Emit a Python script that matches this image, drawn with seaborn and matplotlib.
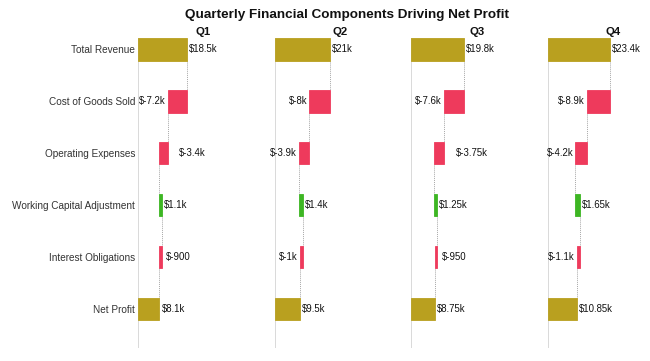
import matplotlib
matplotlib.use("Agg")
import matplotlib.pyplot as plt
import seaborn as sns
import numpy as np
import pandas as pd

# ── Data (dollars) ───────────────────────────────────────────────────────────
quarters = ["Q1", "Q2", "Q3", "Q4"]
components = ["Total Revenue", "Cost of Goods Sold", "Operating Expenses",
              "Working Capital Adjustment", "Interest Obligations", "Net Profit"]

total_revenue = [18500, 21000, 19800, 23400]
cost_of_goods = [-7200, -8000, -7600, -8900]
operating_exp = [-3400, -3900, -3750, -4200]
working_cap   = [1100, 1400, 1250, 1650]
interest      = [-900, -1000, -950, -1100]

# ── Palette ──────────────────────────────────────────────────────────────────
C_TOTAL = "#B9A01F"
C_DOWN  = "#EE3A5C"
C_UP    = "#3DB623"
ZERO    = "#D3D3D3"

rows = []
for i, q in enumerate(quarters):
    steps = [total_revenue[i], cost_of_goods[i], operating_exp[i],
             working_cap[i], interest[i]]
    net = sum(steps)
    for comp, val in zip(components, steps + [net]):
        rows.append({"quarter": q, "component": comp, "value": val})
df = pd.DataFrame(rows)


def fmt(v):
    if abs(v) >= 1000:
        return f"${v / 1000:g}k"
    return f"${v:g}"


BAR_H = 0.43


def waterfall(data, **kwargs):
    ax = plt.gca()
    ax.axvline(0, color=ZERO, lw=1.2, zorder=0)
    running = 0
    prev_end = None
    n = len(data)
    for j, (comp, val) in enumerate(zip(data["component"], data["value"])):
        is_total = j == 0 or j == n - 1
        if is_total:
            left, width, color = 0, val, C_TOTAL
            end = val
        else:
            left, width = running, val
            end = running + val
            color = C_UP if val > 0 else C_DOWN
        ax.barh(j, width, left=left, height=BAR_H, color=color,
                edgecolor=color, linewidth=0.6, zorder=2)
        # dotted connector from previous bar
        if prev_end is not None:
            ax.plot([prev_end, prev_end], [j - 1 + BAR_H / 2, j - BAR_H / 2],
                    color="#A8A8A8", lw=0.7, ls=(0, (1, 1)), zorder=1)
        lo, hi = min(left, left + width), max(left, left + width)
        label = fmt(val)
        if is_total or val > 0:
            ax.annotate(label, (hi, j), xytext=(1.5, 0), textcoords="offset points",
                        ha="left", va="center", fontsize=6.9, color="#111111")
        elif lo >= 9000:
            ax.annotate(label, (lo, j), xytext=(-1.5, 0), textcoords="offset points",
                        ha="right", va="center", fontsize=6.9, color="#111111")
        else:
            ax.annotate(label, (hi + abs(val), j), xytext=(1.5, 0),
                        textcoords="offset points",
                        ha="left", va="center", fontsize=6.9, color="#111111")
        running = end
        prev_end = end


sns.set_theme(style="white")
plt.rcParams["font.family"] = ["Liberation Sans", "DejaVu Sans"]

g = sns.FacetGrid(df, col="quarter", col_order=quarters, sharex=True, sharey=True,
                  height=3.6, aspect=0.45)
g.map_dataframe(waterfall)
g.figure.set_size_inches(6.5, 3.61)
g.figure.subplots_adjust(left=138 / 650, right=648 / 650, top=1 - 38 / 361,
                         bottom=1 - 348 / 361, wspace=0.37)

for ax, q in zip(g.axes.flat, quarters):
    ax.set_xlim(0, 37700)
    ax.set_ylim(5.75, -0.22)
    ax.set_title("")
    ax.text(0.655, 1.009, q, transform=ax.transAxes, ha="center", va="baseline",
            fontsize=8.2, fontweight="bold", color="#111111")
    ax.set_xticks([])
    ax.set_xlabel("")
    ax.set_ylabel("")
    for s in ax.spines.values():
        s.set_visible(False)
    ax.tick_params(axis="y", length=0, pad=2)

ax0 = g.axes.flat[0]
ax0.set_yticks(range(len(components)))
ax0.set_yticklabels(components, fontsize=7.2, color="#333333")

g.figure.suptitle("Quarterly Financial Components Driving Net Profit",
                  x=0.534, y=0.975, fontsize=9.7, fontweight="bold", color="#111111")

g.figure.savefig("out.png", dpi=100)
